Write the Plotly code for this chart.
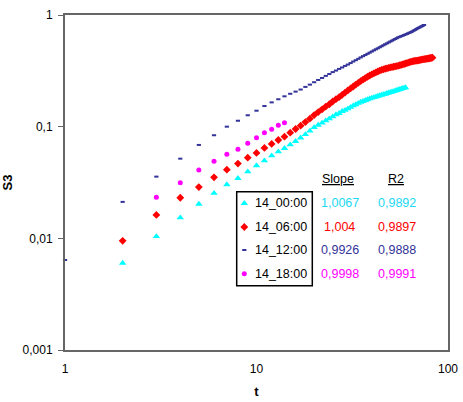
import plotly.graph_objects as go

# ---- data ----
t_cyan = list(range(2, 61))
s_cyan = [0.0060, 0.0104, 0.0153, 0.0203, 0.0254, 0.0303, 0.0345, 0.0395, 0.0448, 0.0496,
          0.0550, 0.0597, 0.0640, 0.0690, 0.0740, 0.0795, 0.0853, 0.0915, 0.0985, 0.1035,
          0.1080, 0.1132, 0.1178, 0.1230, 0.1284, 0.1318, 0.1372, 0.1406, 0.1450, 0.1493,
          0.1540, 0.1578, 0.1622, 0.1660, 0.1688, 0.1722, 0.1748, 0.1782, 0.1810, 0.1828,
          0.1852, 0.1880, 0.1898, 0.1921, 0.1942, 0.1958, 0.1990, 0.2008, 0.2031, 0.2050,
          0.2068, 0.2092, 0.2118, 0.2140, 0.2158, 0.2182, 0.2198, 0.2222, 0.2240]

t_red = list(range(2, 84))
s_red = [0.0095, 0.0162, 0.0231, 0.0288, 0.0352, 0.0412, 0.0467, 0.0528, 0.0582, 0.0645,
         0.0700, 0.0760, 0.0814, 0.0883, 0.0953, 0.1020, 0.1100, 0.1180, 0.1270, 0.1350,
         0.1430, 0.1512, 0.1588, 0.1680, 0.1762, 0.1838, 0.1930, 0.2020, 0.2110, 0.2198,
         0.2290, 0.2382, 0.2468, 0.2560, 0.2640, 0.2722, 0.2798, 0.2872, 0.2940, 0.3002,
         0.3060, 0.3118, 0.3180, 0.3228, 0.3262, 0.3300, 0.3328, 0.3362, 0.3390, 0.3418,
         0.3440, 0.3472, 0.3490, 0.3520, 0.3548, 0.3582, 0.3610, 0.3642, 0.3680, 0.3708,
         0.3742, 0.3780, 0.3808, 0.3840, 0.3862, 0.3878, 0.3892, 0.3910, 0.3930, 0.3948,
         0.3972, 0.3980, 0.4002, 0.4020, 0.4038, 0.4052, 0.4070, 0.4080, 0.4100, 0.4122,
         0.4130, 0.4150]

t_navy = list(range(1, 76))
s_navy = [0.0064, 0.0212, 0.0357, 0.0517, 0.0686, 0.0838, 0.1000, 0.1130, 0.1265, 0.1390,
          0.1530, 0.1650, 0.1760, 0.1870, 0.1970, 0.2060, 0.2150, 0.2270, 0.2380, 0.2500,
          0.2620, 0.2730, 0.2850, 0.2960, 0.3080, 0.3180, 0.3290, 0.3390, 0.3500, 0.3600,
          0.3710, 0.3830, 0.3940, 0.4050, 0.4170, 0.4280, 0.4380, 0.4490, 0.4600, 0.4710,
          0.4820, 0.4930, 0.5030, 0.5140, 0.5250, 0.5360, 0.5470, 0.5570, 0.5680, 0.5790,
          0.5890, 0.6000, 0.6100, 0.6200, 0.6310, 0.6380, 0.6460, 0.6530, 0.6610, 0.6690,
          0.6770, 0.6860, 0.6940, 0.7020, 0.7110, 0.7220, 0.7330, 0.7440, 0.7540, 0.7650,
          0.7750, 0.7850, 0.7940, 0.8040, 0.8140]

t_mag = list(range(3, 15))
s_mag = [0.0233, 0.0315, 0.0410, 0.0490, 0.0566, 0.0628, 0.0710, 0.0797, 0.0883, 0.0947,
         0.1030, 0.1086]

series_names = ["14_00:00", "14_06:00", "14_12:00", "14_18:00"]
slopes = ["1,0067", "1,004", "0,9926", "0,9998"]
r2s = ["0,9892", "0,9897", "0,9888", "0,9991"]

x_tickvals = [1, 10, 100]
x_ticktext = ["1", "10", "100"]
y_tickvals = [0.001, 0.01, 0.1, 1]
y_ticktext = ["0,001", "0,01", "0,1", "1"]

# ---- styles ----
colors = ["#00FFFF", "#FF0000", "#333399", "#FF00FF"]
text_colors = ["#1ED8F5", "#FF0000", "#333399", "#FF00FF"]
symbols = ["triangle-up", "diamond", "line-ew", "circle"]
sizes = [6.5, 6, 3, 5]
FONT = "Liberation Sans, Arial, sans-serif"

def marker(i):
    mk = dict(symbol=symbols[i], size=sizes[i], color=colors[i])
    if symbols[i] == "line-ew":
        mk["line"] = dict(color=colors[i], width=2)
    else:
        mk["line"] = dict(width=0)
    return mk

fig = go.Figure()
data = [(t_cyan, s_cyan), (t_red, s_red), (t_navy, s_navy), (t_mag, s_mag)]
for i, (tx, sy) in enumerate(data):
    fig.add_trace(go.Scatter(x=tx, y=sy, mode="markers", marker=marker(i),
                             name=series_names[i], showlegend=False, cliponaxis=False))

# custom legend on an overlay axis spanning the plot area
L, R, T, B = 65, 15, 15, 52
W, H = 463, 402
pw, ph = W - L - R, H - T - B
def px(x):
    return (x - L) / pw
def py(y):
    return (H - B - y) / ph

rows_y = [203.3, 227.0, 250.0, 273.8]
for i in range(4):
    fig.add_trace(go.Scatter(x=[px(244.3)], y=[py(rows_y[i])], mode="markers",
                             marker=marker(i), xaxis="x2", yaxis="y2", showlegend=False,
                             hoverinfo="skip", cliponaxis=False))
    fig.add_annotation(xref="paper", yref="paper", x=px(252.5), y=py(rows_y[i]),
                       text=series_names[i], showarrow=False, xanchor="left",
                       yanchor="middle", font=dict(family=FONT, size=12.5, color="#000"))
    fig.add_annotation(xref="paper", yref="paper", x=px(339.7), y=py(rows_y[i]),
                       text=slopes[i], showarrow=False, xanchor="center",
                       yanchor="middle", font=dict(family=FONT, size=12.5, color=text_colors[i]))
    fig.add_annotation(xref="paper", yref="paper", x=px(397.2), y=py(rows_y[i]),
                       text=r2s[i], showarrow=False, xanchor="center",
                       yanchor="middle", font=dict(family=FONT, size=12.5, color=text_colors[i]))

fig.add_annotation(xref="paper", yref="paper", x=px(337.5), y=py(179), text="<u>Slope</u>",
                   showarrow=False, xanchor="center", yanchor="middle",
                   font=dict(family=FONT, size=12.5, color="#000"))
fig.add_annotation(xref="paper", yref="paper", x=px(396), y=py(179), text="<u>R2</u>",
                   showarrow=False, xanchor="center", yanchor="middle",
                   font=dict(family=FONT, size=12.5, color="#000"))

fig.add_shape(type="rect", xref="paper", yref="paper",
              x0=px(236.7), x1=px(312.3), y0=py(285.7), y1=py(191.7),
              line=dict(color="#000000", width=1.5), fillcolor="rgba(0,0,0,0)")

fig.update_layout(
    width=W, height=H,
    margin=dict(l=L, r=R, t=T, b=B, pad=0),
    paper_bgcolor="white", plot_bgcolor="white",
    font=dict(family=FONT, size=12, color="#000"),
    xaxis=dict(type="log", range=[0, 2], tickvals=x_tickvals, ticktext=x_ticktext,
               showgrid=False, zeroline=False, showline=True, linecolor="#666666",
               linewidth=2, mirror=True, ticks="", ticklabelstandoff=7, automargin=False,
               title=dict(text="<b>t</b>", font=dict(family=FONT, size=13), standoff=11)),
    yaxis=dict(type="log", range=[-3, 0], tickvals=y_tickvals, ticktext=y_ticktext,
               showgrid=False, zeroline=False, showline=True, linecolor="#666666",
               linewidth=2, mirror=True, ticks="outside", ticklen=5, tickcolor="#666666",
               ticklabelstandoff=3, automargin=False,
               title=dict(text="<b>S3</b>", font=dict(family=FONT, size=13), standoff=10)),
    xaxis2=dict(overlaying="x", range=[0, 1], visible=False, domain=[0, 1], automargin=False),
    yaxis2=dict(overlaying="y", range=[0, 1], visible=False, domain=[0, 1], automargin=False),
)

fig.write_html("out.html")
